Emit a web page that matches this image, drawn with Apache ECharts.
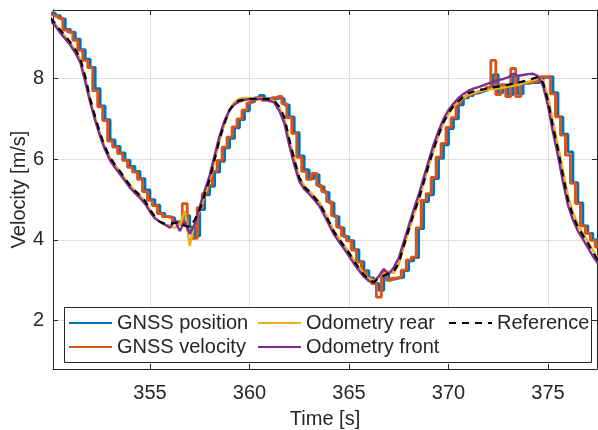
<!DOCTYPE html>
<html>
<head>
<meta charset="utf-8">
<script src="https://cdn.jsdelivr.net/npm/echarts@6/dist/echarts.min.js"></script>
<style>
html, body { margin: 0; padding: 0; background: #fff; }
#chart { width: 598px; height: 430px; }
</style>
</head>
<body>
<div id="chart"></div>
<script>
// sample times [s], 0.25 s apart
var timeS = [
   350.00, 350.25, 350.50, 350.75, 351.00, 351.25, 351.50, 351.75, 352.00, 352.25,
   352.50, 352.75, 353.00, 353.25, 353.50, 353.75, 354.00, 354.25, 354.50, 354.75,
   355.00, 355.25, 355.50, 355.75, 356.00, 356.25, 356.50, 356.75, 357.00, 357.25,
   357.50, 357.75, 358.00, 358.25, 358.50, 358.75, 359.00, 359.25, 359.50, 359.75,
   360.00, 360.25, 360.50, 360.75, 361.00, 361.25, 361.50, 361.75, 362.00, 362.25,
   362.50, 362.75, 363.00, 363.25, 363.50, 363.75, 364.00, 364.25, 364.50, 364.75,
   365.00, 365.25, 365.50, 365.75, 366.00, 366.25, 366.50, 366.75, 367.00, 367.25,
   367.50, 367.75, 368.00, 368.25, 368.50, 368.75, 369.00, 369.25, 369.50, 369.75,
   370.00, 370.25, 370.50, 370.75, 371.00, 371.25, 371.50, 371.75, 372.00, 372.25,
   372.50, 372.75, 373.00, 373.25, 373.50, 373.75, 374.00, 374.25, 374.50, 374.75,
   375.00, 375.25, 375.50, 375.75, 376.00, 376.25, 376.50, 376.75, 377.00, 377.25,
   377.50
];

var gnssPosition = [
   9.62, 9.56, 9.48, 9.22, 9.15, 8.98, 8.72, 8.48, 8.28, 7.75,
   7.32, 6.98, 6.48, 6.32, 6.16, 5.98, 5.82, 5.70, 5.52, 5.24,
   5.00, 4.86, 4.66, 4.58, 4.54, 4.45, 4.38, 4.60, 4.32, 4.10,
   4.75, 5.12, 5.33, 5.68, 5.95, 6.28, 6.52, 6.78, 6.98, 7.20,
   7.42, 7.52, 7.58, 7.50, 7.48, 7.52, 7.50, 7.35, 7.05, 6.66,
   6.08, 5.74, 5.52, 5.62, 5.32, 5.18, 4.92, 4.58, 4.30, 4.08,
   3.98, 3.76, 3.46, 3.24, 3.06, 2.92, 2.75, 3.12, 3.02, 3.05,
   3.07, 3.24, 3.48, 3.56, 4.28, 4.95, 5.12, 5.52, 6.02, 6.36,
   6.76, 7.00, 7.35, 7.52, 7.58, 7.64, 7.68, 7.72, 7.78, 8.10,
   7.65, 7.82, 7.60, 8.05, 7.62, 7.88, 7.90, 7.90, 7.94, 8.03,
   8.05, 7.65, 7.05, 6.62, 6.18, 5.42, 4.92, 4.35, 4.16, 4.00,
   3.85
];

var gnssVelocity = [
   9.58, 9.55, 9.50, 9.20, 9.15, 8.95, 8.70, 8.45, 8.27, 7.70,
   7.30, 6.96, 6.45, 6.30, 6.14, 5.97, 5.80, 5.68, 5.50, 5.20,
   4.98, 4.85, 4.65, 4.58, 4.56, 4.44, 4.40, 4.90, 4.24, 4.04,
   4.80, 5.15, 5.35, 5.70, 5.97, 6.30, 6.55, 6.80, 7.00, 7.22,
   7.40, 7.48, 7.53, 7.46, 7.45, 7.53, 7.56, 7.38, 7.03, 6.64,
   6.05, 5.70, 5.50, 5.65, 5.35, 5.20, 4.95, 4.60, 4.32, 4.10,
   3.98, 3.75, 3.45, 3.22, 3.05, 2.92, 2.58, 3.20, 3.00, 3.05,
   3.07, 3.25, 3.50, 3.57, 4.30, 4.98, 5.15, 5.55, 6.05, 6.39,
   6.79, 7.03, 7.38, 7.53, 7.58, 7.64, 7.68, 7.73, 7.78, 8.45,
   7.60, 7.85, 7.55, 8.25, 7.55, 7.90, 7.90, 7.92, 7.95, 8.05,
   8.05, 7.62, 7.05, 6.60, 6.10, 5.40, 4.90, 4.35, 4.16, 3.99,
   3.82
];

var odometryRear = [
   9.48, 9.34, 9.18, 9.04, 8.88, 8.70, 8.48, 8.02, 7.48, 7.02,
   6.62, 6.28, 6.03, 5.85, 5.69, 5.52, 5.36, 5.22, 5.10, 4.96,
   4.74, 4.56, 4.44, 4.38, 4.36, 4.30, 4.38, 4.72, 3.85, 4.45,
   4.72, 5.10, 5.48, 5.98, 6.48, 6.88, 7.22, 7.42, 7.50, 7.52,
   7.52, 7.50, 7.50, 7.50, 7.48, 7.44, 7.28, 7.02, 6.48, 6.02,
   5.56, 5.34, 5.22, 5.08, 4.94, 4.72, 4.47, 4.22, 4.04, 3.87,
   3.70, 3.50, 3.32, 3.16, 3.04, 2.98, 3.10, 3.15, 3.22, 3.18,
   3.40, 3.82, 4.22, 4.62, 4.98, 5.40, 5.82, 6.22, 6.58, 6.90,
   7.12, 7.30, 7.42, 7.52, 7.60, 7.64, 7.68, 7.70, 7.72, 7.74,
   7.76, 7.78, 7.80, 7.82, 7.84, 7.88, 7.92, 7.96, 8.00, 7.95,
   7.55, 6.92, 6.35, 5.72, 5.10, 4.68, 4.38, 4.16, 3.96, 3.75,
   3.55
];

var odometryFront = [
   9.44, 9.30, 9.13, 8.98, 8.83, 8.64, 8.40, 7.92, 7.40, 6.96,
   6.56, 6.23, 5.97, 5.79, 5.63, 5.46, 5.29, 5.16, 5.04, 4.90,
   4.70, 4.53, 4.45, 4.38, 4.30, 4.48, 4.22, 4.45, 4.15, 4.38,
   4.82, 5.22, 5.60, 6.10, 6.58, 6.96, 7.22, 7.36, 7.43, 7.47,
   7.49, 7.49, 7.49, 7.48, 7.46, 7.40, 7.20, 6.90, 6.35, 5.86,
   5.46, 5.26, 5.14, 5.00, 4.85, 4.62, 4.37, 4.13, 3.95, 3.78,
   3.60, 3.41, 3.24, 3.09, 2.98, 2.95, 3.10, 3.28, 3.15, 3.32,
   3.55, 3.95, 4.35, 4.75, 5.12, 5.54, 5.96, 6.36, 6.70, 7.00,
   7.22, 7.38, 7.52, 7.62, 7.70, 7.75, 7.79, 7.83, 7.88, 7.92,
   7.96, 7.99, 8.03, 8.12, 8.07, 8.09, 8.11, 8.12, 8.06, 7.82,
   7.32, 6.66, 6.08, 5.44, 4.86, 4.50, 4.22, 4.02, 3.81, 3.60,
   3.42
];

var reference = [
   9.50, 9.36, 9.20, 9.05, 8.90, 8.72, 8.50, 8.05, 7.50, 7.05,
   6.64, 6.30, 6.04, 5.86, 5.70, 5.52, 5.35, 5.22, 5.10, 4.97,
   4.75, 4.58, 4.45, 4.40, 4.40, 4.42, 4.44, 4.35, 4.32, 4.50,
   4.75, 5.12, 5.50, 6.00, 6.50, 6.90, 7.22, 7.40, 7.46, 7.48,
   7.50, 7.50, 7.50, 7.50, 7.49, 7.45, 7.30, 7.05, 6.50, 6.00,
   5.55, 5.32, 5.20, 5.06, 4.92, 4.70, 4.45, 4.20, 4.02, 3.85,
   3.68, 3.48, 3.30, 3.14, 3.02, 2.95, 3.05, 3.12, 3.17, 3.22,
   3.42, 3.85, 4.25, 4.65, 5.00, 5.42, 5.85, 6.25, 6.60, 6.92,
   7.15, 7.32, 7.44, 7.55, 7.64, 7.68, 7.71, 7.73, 7.76, 7.78,
   7.80, 7.82, 7.85, 7.87, 7.90, 7.93, 7.96, 8.00, 8.04, 7.90,
   7.45, 6.80, 6.25, 5.60, 5.00, 4.60, 4.32, 4.12, 3.92, 3.70,
   3.50
];

var font = '"Liberation Sans", Arial, sans-serif';
var ink = '#262626';
var xMin = 350.13, xMax = 377.46;
var yMin = 0.8, yMax = 9.7;

var pairs = function(vals) {
   return timeS.map(function(t, i) {
      return [t, vals[i]];
   });
};

var makeLine = function(name, vals, color, width, step, z, dash) {
   return {
      name: name,
      type: 'line',
      data: pairs(vals),
      step: step,
      showSymbol: false,
      symbol: 'none',
      z: z,
      animation: false,
      lineStyle: { color: color, width: width, type: dash || 'solid' },
      itemStyle: { color: color }
   };
};

var legendBase = function(names, left) {
   return {
      data: names,
      orient: 'vertical',
      left: left,
      top: 313,
      padding: 0,
      itemWidth: 43,
      itemHeight: 14,
      itemGap: 4,
      selectedMode: false,
      z: 20,
      // hide the marker circle, keep only the line sample
      itemStyle: { opacity: 0 },
      textStyle: { fontSize: 20, lineHeight: 20, color: ink, fontFamily: font }
   };
};

var chart = echarts.init(document.getElementById('chart'), null, { renderer: 'canvas' });

var option = {
   backgroundColor: '#fff',
   animation: false,
   grid: { left: 53, right: 1, top: 10, bottom: 61, outerBoundsMode: 'none', containLabel: false },
   xAxis: [{
      type: 'value',
      min: xMin,
      max: xMax,
      name: 'Time [s]',
      nameLocation: 'middle',
      nameGap: 40,
      nameMoveOverlap: false,
      nameTextStyle: { fontSize: 20, color: ink, fontFamily: font },
      axisLine: { lineStyle: { color: ink, width: 1 } },
      axisTick: { inside: true, length: 5, lineStyle: { color: ink } },
      axisLabel: {
         margin: 14, fontSize: 20, color: ink, fontFamily: font,
         formatter: function(v) { return v % 5 === 0 ? String(v) : ''; }
      },
      splitLine: { show: true, lineStyle: { color: '#dfdfdf', width: 1 } }
   }, {
      type: 'value',
      position: 'top',
      min: xMin,
      max: xMax,
      axisLine: { lineStyle: { color: ink, width: 1 } },
      axisTick: { inside: true, length: 5, lineStyle: { color: ink } },
      axisLabel: { show: false },
      splitLine: { show: false }
   }],
   yAxis: [{
      type: 'value',
      min: yMin,
      max: yMax,
      name: 'Velocity [m/s]',
      nameLocation: 'middle',
      nameGap: 24,
      nameMoveOverlap: false,
      nameTextStyle: { fontSize: 20, color: ink, fontFamily: font },
      axisLine: { show: true, lineStyle: { color: ink, width: 1 } },
      axisTick: { show: true, inside: true, length: 5, lineStyle: { color: ink } },
      axisLabel: {
         margin: 9, fontSize: 20, color: ink, fontFamily: font,
         formatter: function(v) { return v % 2 === 0 ? String(v) : ''; }
      },
      splitLine: { show: true, lineStyle: { color: '#dfdfdf', width: 1 } }
   }, {
      type: 'value',
      position: 'right',
      min: yMin,
      max: yMax,
      axisLine: { show: true, lineStyle: { color: ink, width: 1 } },
      axisTick: { show: true, inside: true, length: 5, lineStyle: { color: ink } },
      axisLabel: { show: false },
      splitLine: { show: false }
   }],
   legend: [
      legendBase(['GNSS position', 'GNSS velocity'], 68),
      legendBase(['Odometry rear', 'Odometry front'], 257),
      legendBase(['Reference'], 448)
   ],
   graphic: {
      elements: [{
         type: 'rect',
         z: 15,
         shape: { x: 64.5, y: 307.5, width: 527, height: 55 },
         style: { fill: '#fff', stroke: ink, lineWidth: 1 }
      }]
   },
   series: [
      makeLine('GNSS position', gnssPosition, '#0072BD', 2.8, 'end', 2),
      makeLine('GNSS velocity', gnssVelocity, '#D95319', 2.8, 'middle', 3),
      makeLine('Odometry rear', odometryRear, '#EDB120', 2.4, false, 4),
      makeLine('Odometry front', odometryFront, '#7E2F8E', 2.4, false, 5),
      makeLine('Reference', reference, '#000000', 2.2, false, 6, [7, 6])
   ]
};

chart.setOption(option);
</script>
</body>
</html>
